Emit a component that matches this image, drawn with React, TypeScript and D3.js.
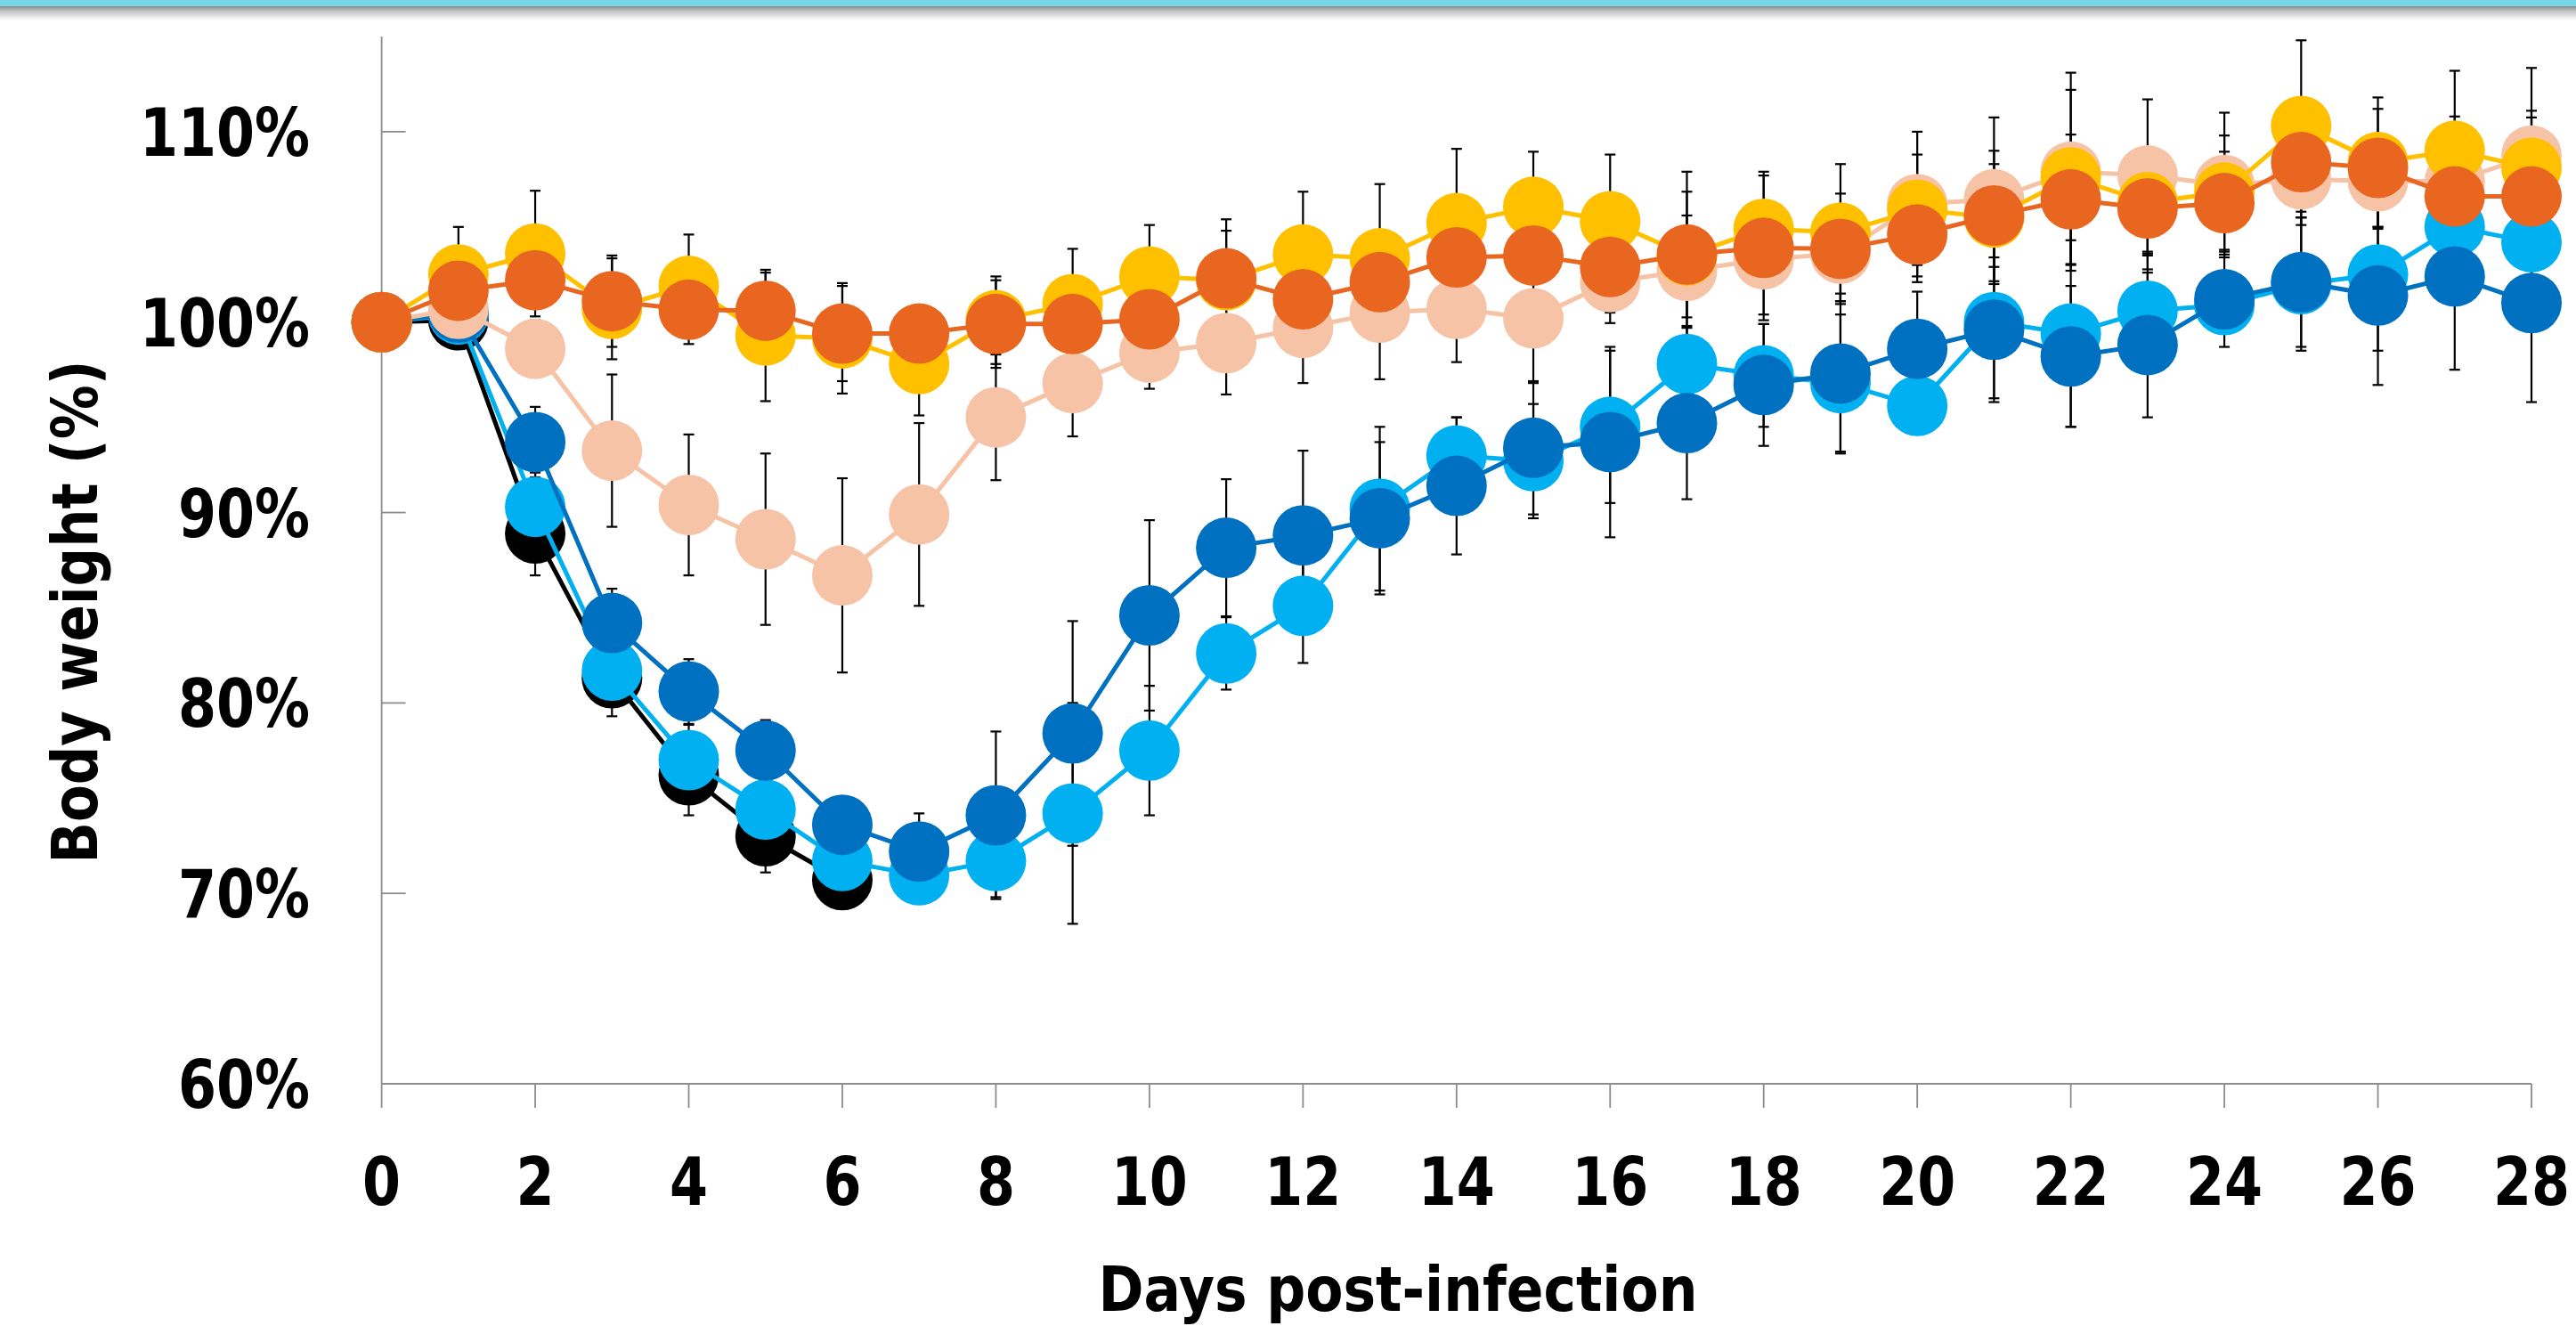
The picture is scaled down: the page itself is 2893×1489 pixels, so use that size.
import React from 'react';
import * as d3 from 'd3';

const DAYS = [0, 1, 2, 3, 4, 5, 6, 7, 8, 9, 10, 11, 12, 13, 14, 15, 16, 17, 18, 19, 20, 21, 22, 23, 24, 25, 26, 27, 28];

const BLACK = [100, 100.1, 88.9, 81.3, 76.2, 73.0, 70.7];
const BLACK_SD = [0, 1.5, 2.2, 2.0, 2.1, 1.9, 1.2];

const LIGHT_BLUE = [100, 100.4, 90.3, 81.7, 77.0, 74.4, 71.7, 70.95, 71.7, 74.2, 77.5, 82.6, 85.1, 90.2, 93.0, 92.7, 94.5, 97.8, 97.2, 96.8, 95.6, 100.0, 99.4, 100.6, 100.9, 102.0, 102.5, 105.0, 104.2];
const LIGHT_BLUE_SD = [0, 1.0, 1.8, 1.8, 1.85, 1.6, 1.5, 1.5, 1.9, 5.8, 3.4, 1.9, 3.0, 4.3, 2.0, 3.0, 4.0, 1.9, 2.7, 3.6, 1.2, 4.0, 4.9, 3.0, 1.0, 3.5, 4.0, 3.5, 4.0];

const DARK_BLUE = [100, 100.5, 93.7, 84.2, 80.6, 77.5, 73.6, 72.2, 74.1, 78.4, 84.6, 88.15, 88.8, 89.7, 91.4, 93.4, 93.7, 94.7, 96.7, 97.3, 98.6, 99.6, 98.2, 98.8, 101.2, 102.1, 101.4, 102.4, 101.0];
const DARK_BLUE_SD = [0, 0.8, 1.85, 1.8, 1.7, 1.6, 1.5, 2.0, 4.4, 5.9, 5.0, 3.6, 4.45, 4.0, 3.6, 3.5, 5.0, 4.0, 3.2, 4.2, 3.0, 3.8, 3.7, 3.8, 2.5, 3.4, 4.7, 4.9, 5.2];

const PEACH = [100, 100.7, 98.6, 93.25, 90.4, 88.6, 86.7, 89.9, 95.0, 96.8, 98.4, 98.9, 99.7, 100.5, 100.7, 100.2, 102.1, 102.7, 103.3, 103.6, 106.2, 106.45, 107.9, 107.7, 107.2, 107.5, 107.4, 107.4, 108.75];
const PEACH_SD = [0, 1.0, 1.5, 4.0, 3.7, 4.5, 5.1, 4.8, 3.3, 2.8, 1.9, 2.7, 2.9, 3.5, 2.8, 3.4, 2.15, 2.9, 2.9, 2.5, 3.8, 4.3, 5.2, 4.0, 3.8, 2.4, 2.5, 3.0, 4.6];

const GOLD = [100, 102.5, 103.6, 100.7, 101.9, 99.3, 99.15, 97.8, 100.1, 100.95, 102.4, 102.2, 103.55, 103.35, 105.2, 106.05, 105.3, 103.5, 104.9, 104.7, 105.9, 105.5, 107.6, 106.3, 106.8, 110.3, 108.4, 109.0, 108.1];
const GOLD_SD = [0, 2.5, 3.3, 2.65, 2.7, 3.45, 2.9, 2.7, 2.3, 2.9, 2.7, 3.2, 3.3, 3.9, 3.9, 2.9, 3.5, 4.4, 3.0, 3.6, 2.9, 3.5, 4.6, 2.8, 3.0, 4.5, 3.4, 4.2, 2.65];

const ORANGE = [100, 101.65, 102.2, 101.1, 100.65, 100.6, 99.4, 99.4, 99.9, 99.9, 100.15, 102.3, 101.2, 102.1, 103.4, 103.5, 102.9, 103.55, 103.9, 103.85, 104.6, 105.6, 106.45, 105.97, 106.25, 108.4, 108.1, 106.6, 106.6];
const ORANGE_SD = [0, 1.0, 1.5, 2.4, 1.8, 2.0, 2.5, 1.3, 2.3, 1.5, 2.0, 2.5, 2.2, 2.3, 2.5, 2.2, 2.4, 3.3, 3.8, 2.9, 2.5, 2.7, 3.4, 3.2, 2.7, 2.9, 3.1, 4.2, 4.5];

const SERIES_NAMES = ['black', 'lightBlue', 'darkBlue', 'peach', 'gold', 'orange'];
const SERIES_COLORS = ['#000000', '#00B0F0', '#0070C0', '#F6C3A6', '#FFC000', '#E96620'];
const SERIES_VALUES = [BLACK, LIGHT_BLUE, DARK_BLUE, PEACH, GOLD, ORANGE];
const SERIES_SD = [BLACK_SD, LIGHT_BLUE_SD, DARK_BLUE_SD, PEACH_SD, GOLD_SD, ORANGE_SD];

const Y_TICKS = [60, 70, 80, 90, 100, 110];
const Y_TICK_LABELS = ['60%', '70%', '80%', '90%', '100%', '110%'];
const X_TICKS = [0, 2, 4, 6, 8, 10, 12, 14, 16, 18, 20, 22, 24, 26, 28];
const X_TITLE = 'Days post-infection';
const Y_TITLE = 'Body weight (%)';

const W = 2893;
const H = 1489;
const FONT = "'DejaVu Sans Condensed', 'DejaVu Sans', sans-serif";
const AXIS_COLOR = '#8C8C8C';

function labelLen(s: string) {
  let w = 0;
  for (const ch of s) w += ch === '%' ? 62 : 43;
  return w;
}

export default function App() {
  const x = d3.scaleLinear().domain([0, 28]).range([428.6, 2843]);
  const y = d3.scaleLinear().domain([60, 115]).range([1217, 41]);
  const line = d3
    .line<{ d: number; v: number }>()
    .x((p) => x(p.d))
    .y((p) => y(p.v));

  const series = SERIES_NAMES.map((name, i) => ({
    name,
    color: SERIES_COLORS[i],
    points: SERIES_VALUES[i].map((v, j) => ({ d: DAYS[j], v, sd: SERIES_SD[i][j] })),
  }));

  const x0 = x(0);
  const y0 = y(60);

  return (
    <svg
      width={W}
      height={H}
      style={{ position: 'absolute', left: 0, top: 0, background: '#fff' }}
      xmlns="http://www.w3.org/2000/svg"
    >
      <defs>
        <linearGradient id="shadow" x1="0" y1="0" x2="0" y2="1">
          <stop offset="0" stopColor="#8a8a8a" />
          <stop offset="0.35" stopColor="#c4c4c4" />
          <stop offset="1" stopColor="#ffffff" />
        </linearGradient>
      </defs>
      <rect x={0} y={0} width={W} height={H} fill="#ffffff" />
      <rect x={0} y={7} width={W} height={16} fill="url(#shadow)" />
      <rect x={0} y={0} width={W} height={7} fill="#78D6EA" />

      {/* axes */}
      <line x1={x0} x2={x0} y1={y(115)} y2={y0} stroke={AXIS_COLOR} strokeWidth={1.8} />
      <line x1={x0} x2={x(28)} y1={y0} y2={y0} stroke={AXIS_COLOR} strokeWidth={1.8} />
      {Y_TICKS.map((t) => (
        <line key={'yt' + t} x1={x0} x2={x0 + 27} y1={y(t)} y2={y(t)} stroke={AXIS_COLOR} strokeWidth={1.8} />
      ))}
      {X_TICKS.map((t) => (
        <line key={'xt' + t} x1={x(t)} x2={x(t)} y1={y0} y2={y0 + 27} stroke={AXIS_COLOR} strokeWidth={1.8} />
      ))}

      {/* tick labels */}
      {Y_TICKS.map((t, i) => (
        <text
          key={'yl' + t}
          x={348}
          y={y(t) + 27}
          textAnchor="end"
          fontFamily={FONT}
          fontWeight="bold"
          fontSize={75}
          textLength={labelLen(Y_TICK_LABELS[i])}
          lengthAdjust="spacingAndGlyphs"
          fill="#000"
        >
          {Y_TICK_LABELS[i]}
        </text>
      ))}
      {X_TICKS.map((t) => (
        <text
          key={'xl' + t}
          x={x(t)}
          y={1353}
          textAnchor="middle"
          fontFamily={FONT}
          fontWeight="bold"
          fontSize={75}
          textLength={labelLen(String(t))}
          lengthAdjust="spacingAndGlyphs"
          fill="#000"
        >
          {String(t)}
        </text>
      ))}

      {/* axis titles */}
      <text
        x={1570}
        y={1472}
        textAnchor="middle"
        fontFamily={FONT}
        fontWeight="bold"
        fontSize={70}
        textLength={673}
        lengthAdjust="spacingAndGlyphs"
        fill="#000"
      >
        {X_TITLE}
      </text>
      <text
        transform="translate(109,687) rotate(-90)"
        textAnchor="middle"
        fontFamily={FONT}
        fontWeight="bold"
        fontSize={72}
        textLength={565}
        lengthAdjust="spacingAndGlyphs"
        fill="#000"
      >
        {Y_TITLE}
      </text>

      {/* error bars */}
      <g stroke="#000" strokeWidth={2.2}>
        {series.map((s) =>
          s.points
            .filter((p) => p.sd > 0)
            .map((p) => {
              const cx = x(p.d);
              const yt = y(p.v + p.sd);
              const yb = y(p.v - p.sd);
              return (
                <g key={s.name + 'e' + p.d}>
                  <line x1={cx} x2={cx} y1={yt} y2={yb} />
                  <line x1={cx - 6} x2={cx + 6} y1={yt} y2={yt} />
                  <line x1={cx - 6} x2={cx + 6} y1={yb} y2={yb} />
                </g>
              );
            })
        )}
      </g>

      {/* series */}
      {series.map((s) => (
        <g key={s.name}>
          <path d={line(s.points) || ''} fill="none" stroke={s.color} strokeWidth={5} strokeLinejoin="round" />
          {s.points.map((p) => (
            <circle key={p.d} cx={x(p.d)} cy={y(p.v)} r={34} fill={s.color} />
          ))}
        </g>
      ))}
    </svg>
  );
}
